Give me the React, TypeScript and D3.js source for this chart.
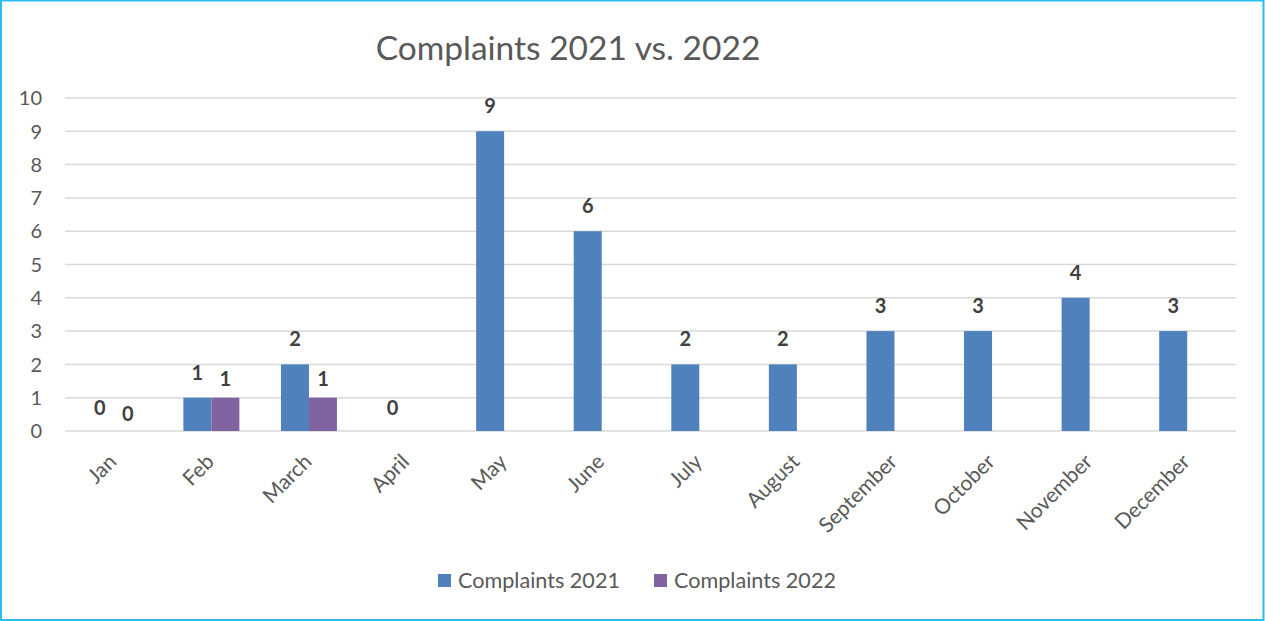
import React from "react";
import * as d3 from "d3";

const months = [
  "Jan", "Feb", "March", "April", "May", "June",
  "July", "August", "September", "October", "November", "December",
];
const complaints2021 = [0, 1, 2, 0, 9, 6, 2, 2, 3, 3, 4, 3];
const complaints2022: (number | null)[] = [0, 1, 1, null, null, null, null, null, null, null, null, null];
const seriesNames = ["Complaints 2021", "Complaints 2022"];
const yTicks = [0, 1, 2, 3, 4, 5, 6, 7, 8, 9, 10];

const colors = ["#4F81BD", "#8064A2"];
const textColor = "#595959";
const labelColor = "#404040";
const font = "Lato, 'Open Sans', sans-serif";

const App = () => {
  const width = 1265;
  const height = 621;
  const margin = { top: 98, right: 29, bottom: 190, left: 65 };
  const plotW = width - margin.left - margin.right;
  const plotH = height - margin.top - margin.bottom;

  const x = d3.scaleBand().domain(months).range([0, plotW]);
  const inner = d3.scaleBand().domain(["a", "b"]).range([x.bandwidth() / 2 - 28, x.bandwidth() / 2 + 28]);
  const y = d3.scaleLinear().domain([0, 10]).range([plotH, 0]);

  const series = [complaints2021, complaints2022];
  const keys = ["a", "b"];
  const labelOffset = [18, 12];

  return (
    <svg
      width={width}
      height={height}
      style={{ position: "absolute", left: 0, top: 0, background: "#fff" }}
      fontFamily={font}
    >
      <rect x={1} y={0.5} width={width - 2.5} height={height - 1.5} fill="#fff" stroke="#2BBDF0" strokeWidth={2} />
      <text x={568} y={60} textAnchor="middle" fontSize={33.5} fill={textColor}>
        Complaints 2021 vs. 2022
      </text>
      <g transform={`translate(${margin.left},${margin.top})`}>
        {yTicks.map((t) => (
          <g key={t}>
            <line x1={0} x2={plotW} y1={y(t)} y2={y(t)} stroke="#D9D9D9" strokeWidth={1.5} />
            <text x={-23} y={y(t)} dy="0.36em" textAnchor="end" fontSize={20} fill={textColor}>
              {t}
            </text>
          </g>
        ))}
        {series.map((vals, si) =>
          vals.map((v, i) =>
            v === null ? null : (
              <g key={`${si}-${i}`}>
                {v > 0 && (
                  <rect
                    x={(x(months[i]) ?? 0) + (inner(keys[si]) ?? 0)}
                    y={y(v)}
                    width={inner.bandwidth()}
                    height={plotH - y(v)}
                    fill={colors[si]}
                  />
                )}
                <text
                  x={(x(months[i]) ?? 0) + (inner(keys[si]) ?? 0) + inner.bandwidth() / 2}
                  y={y(v) - labelOffset[si] + (v === 0 ? 2 : 0)}
                  textAnchor="middle"
                  fontSize={20}
                  fontWeight="bold"
                  fill={labelColor}
                >
                  {v}
                </text>
              </g>
            )
          )
        )}
        {months.map((m) => (
          <text
            key={m}
            transform={`translate(${(x(m) ?? 0) + x.bandwidth() / 2 + 4},${plotH + 32}) rotate(-45)`}
            textAnchor="end"
            fontSize={21}
            fill={textColor}
          >
            {m}
          </text>
        ))}
      </g>
      {seriesNames.map((name, i) => (
        <g key={name} transform={`translate(${438 + i * 216},574)`}>
          <rect x={0} y={0} width={13} height={13} fill={colors[i]} />
          <text x={20} y={14} fontSize={21.6} fill={textColor}>
            {name}
          </text>
        </g>
      ))}
    </svg>
  );
};

export default App;
